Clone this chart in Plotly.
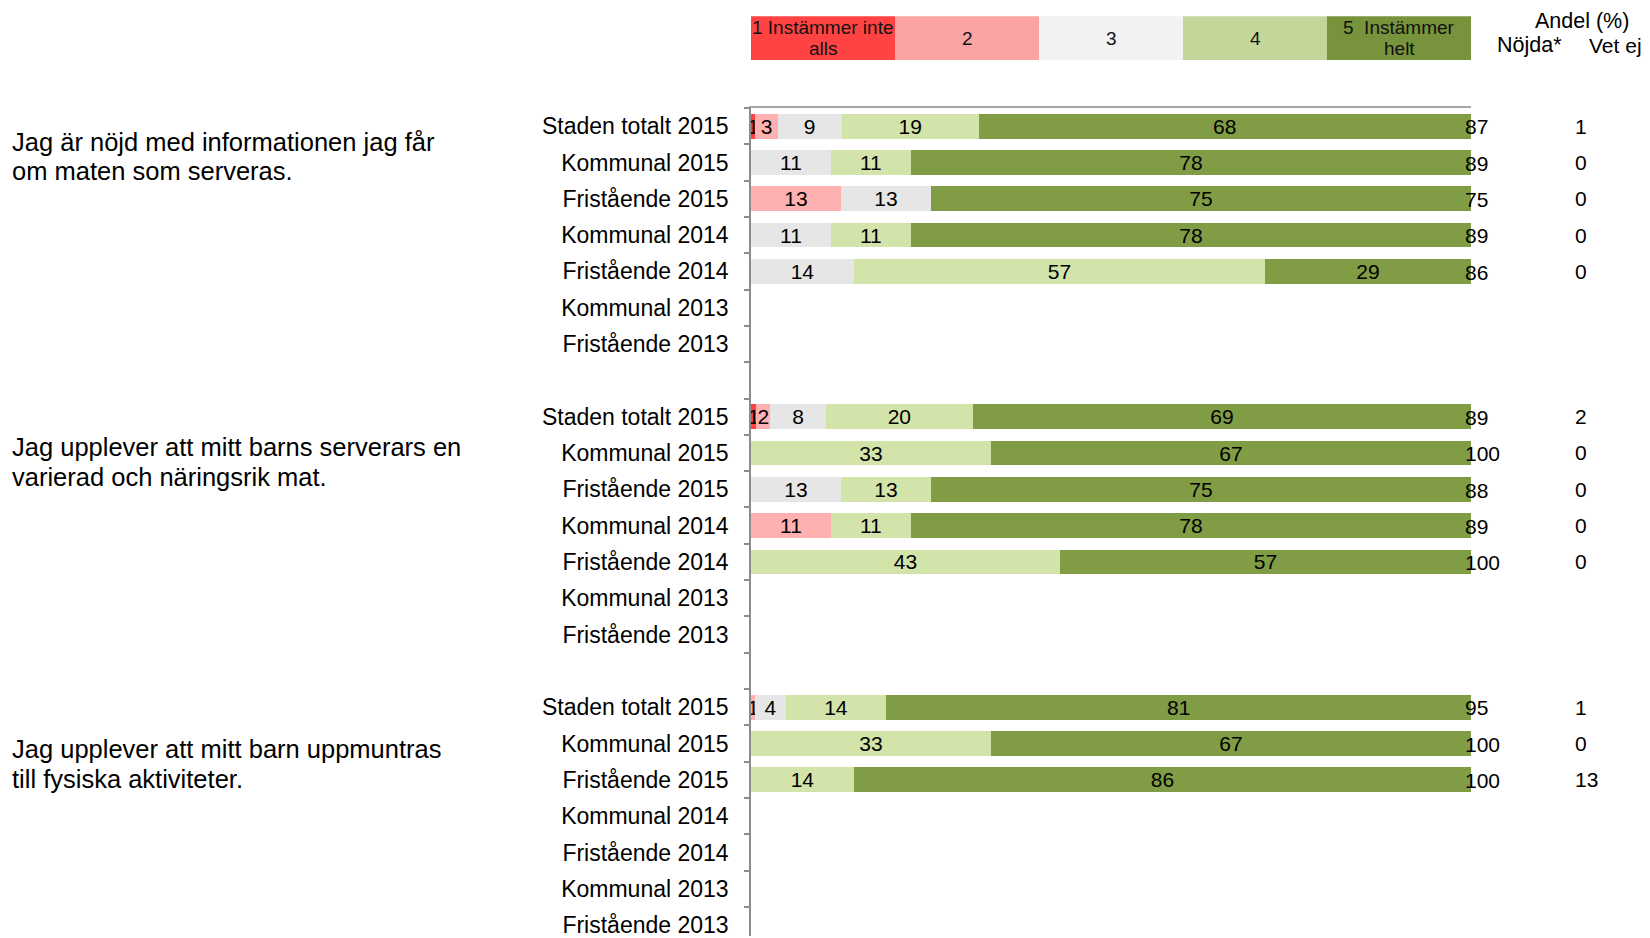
import plotly.graph_objects as go

# ---------------- data ----------------
questions = [
    ["Jag är nöjd med informationen jag får", "om maten som serveras."],
    ["Jag upplever att mitt barns serverars en", "varierad och näringsrik mat."],
    ["Jag upplever att mitt barn uppmuntras", "till fysiska aktiviteter."],
]
groups = ["Staden totalt 2015", "Kommunal 2015", "Fristående 2015",
          "Kommunal 2014", "Fristående 2014", "Kommunal 2013", "Fristående 2013"]
levels = [["1 Instämmer inte", "alls"], ["2"], ["3"], ["4"], ["5  Instämmer", "helt"]]

# shares (%) per answer level; rows = question x group (7 groups per question)
s1 = [0.6, None, None, None, None, None, None,
      0.7, None, None, None, None, None, None,
      None, None, None, None, None, None, None]
s2 = [3.1, None, 12.5, None, None, None, None,
      2.0, None, None, 11.1, None, None, None,
      0.6, None, None, None, None, None, None]
s3 = [8.9, 11.1, 12.5, 11.1, 14.3, None, None,
      7.7, None, 12.5, None, None, None, None,
      4.2, None, None, None, None, None, None]
s4 = [19.0, 11.1, None, 11.1, 57.1, None, None,
      20.4, 33.3, 12.5, 11.1, 42.9, None, None,
      14.0, 33.3, 14.3, None, None, None, None]
s5 = [68.4, 77.8, 75.0, 77.8, 28.6, None, None,
      69.2, 66.7, 75.0, 77.8, 57.1, None, None,
      81.2, 66.7, 85.7, None, None, None, None]
nojda = [87, 89, 75, 89, 86, None, None,
         89, 100, 88, 89, 100, None, None,
         95, 100, 100, None, None, None, None]
vetej = [1, 0, 0, 0, 0, None, None,
         2, 0, 0, 0, 0, None, None,
         1, 0, 13, None, None, None, None]

bar_colors = ["#FF4242", "#FFB0B0", "#E6E6E6", "#D2E4AA", "#809D45"]
legend_colors = ["#FF4343", "#FAA3A3", "#F2F2F2", "#C4D79B", "#77933C"]

FONT = "Liberation Sans, Arial, sans-serif"

# ---------------- geometry (page pixels; page body has an 8px margin) ----
OFF = 8
PL, PR, PT, PB = 751, 1471, 108, 938          # plot area on the page
FW, FH = 1650 - OFF, 938 - OFF


def px(xp):
    return (xp - PL) / (PR - PL)


def py(yp):
    return 1 - (yp - PT) / (PB - PT)


n_q, n_g = len(questions), len(groups)
ypos = [q * (n_g + 1) + g for q in range(n_q) for g in range(n_g)]
ylabels = [groups[g] for q in range(n_q) for g in range(n_g)]
y_top, y_bot = -0.5, 22.3


def lab(v):
    return "" if v is None else str(int(v + 0.5))


def ypix(yv):
    return PT + (yv - y_top) / (y_bot - y_top) * (PB - PT)


fig = go.Figure()
for series, col in zip([s1, s2, s3, s4, s5], bar_colors):
    fig.add_trace(go.Bar(
        x=series, y=ypos, orientation="h", width=0.68,
        marker=dict(color=col, line=dict(width=0)),
        text=[lab(v) for v in series], textposition="inside",
        insidetextanchor="middle", textangle=0,
        textfont=dict(family=FONT, size=21, color="#000000"),
        hoverinfo="skip", showlegend=False,
    ))

boundaries = [i + 0.5 for i in range(-1, max(ypos) + 1)]

fig.update_layout(
    width=FW, height=FH,
    margin=dict(l=PL - OFF, r=FW - (PR - OFF), t=PT - OFF, b=0),
    paper_bgcolor="white", plot_bgcolor="white",
    barmode="stack",
    uniformtext=dict(minsize=21, mode="show"),
    font=dict(family=FONT, size=21, color="#000000"),
    xaxis=dict(range=[0, 100], side="top", showline=True, linecolor="#A6A6A6",
               linewidth=2, showgrid=False, zeroline=False,
               showticklabels=False, ticks=""),
    yaxis=dict(range=[y_bot, y_top], tickvals=ypos, ticktext=ylabels,
               ticks="", showline=True, linecolor="#8C8C8C", linewidth=1.5,
               showgrid=False, zeroline=False, ticklabelstandoff=16,
               ticklabeloverflow="allow",
               tickfont=dict(family=FONT, size=23, color="#000000"),
               minor=dict(tickvals=boundaries, ticks="outside", ticklen=5,
                          tickcolor="#8C8C8C", tickwidth=1.5, showgrid=False)),
)

# Nöjda / Vet ej columns
for y, n, v in zip(ypos, nojda, vetej):
    if n is not None:
        fig.add_annotation(xref="x", yref="y", x=98.9, y=y + 0.02, text=str(n),
                           showarrow=False, xanchor="left", yanchor="middle",
                           font=dict(family=FONT, size=21, color="#000000"))
    if v is not None:
        fig.add_annotation(xref="paper", yref="paper", x=px(1573),
                           y=py(ypix(y)), text=str(v),
                           showarrow=False, xanchor="left", yanchor="middle",
                           font=dict(family=FONT, size=21, color="#000000"))

# legend boxes across the top
for i, (lines, col) in enumerate(zip(levels, legend_colors)):
    fig.add_shape(type="rect", xref="x", yref="paper",
                  x0=i * 20, x1=(i + 1) * 20, y0=py(60), y1=py(16),
                  fillcolor=col, line=dict(width=0), layer="above")
    if len(lines) == 1:
        ys = [38]
    else:
        ys = [27.5, 48]
    for t, yl in zip(lines, ys):
        fig.add_annotation(xref="x", yref="paper", x=i * 20 + 10, y=py(yl),
                           text=t, showarrow=False, xanchor="center",
                           yanchor="middle",
                           font=dict(family=FONT, size=19, color="#111111"))

# column headers
fig.add_annotation(xref="paper", yref="paper", x=px(1582), y=py(21),
                   text="Andel (%)", showarrow=False,
                   font=dict(family=FONT, size=21.5), xanchor="center", yanchor="middle")
fig.add_annotation(xref="paper", yref="paper", x=px(1529), y=py(45),
                   text="Nöjda*", showarrow=False,
                   font=dict(family=FONT, size=21.5), xanchor="center", yanchor="middle")
fig.add_annotation(xref="paper", yref="paper", x=px(1587), y=py(45),
                   text="Vet ej", showarrow=False,
                   font=dict(family=FONT, size=21), xanchor="left", yanchor="middle")

# question texts (one annotation per line for the tight line spacing)
q_lines_y = [[142, 171.5], [448, 478], [751, 781]]
for qt, qys in zip(questions, q_lines_y):
    for t, yl in zip(qt, qys):
        fig.add_annotation(xref="paper", yref="paper", x=px(10), y=py(yl),
                           text=t, showarrow=False, align="left",
                           xanchor="left", yanchor="middle",
                           font=dict(family=FONT, size=25.5, color="#000000"))

fig.write_html("out.html")
